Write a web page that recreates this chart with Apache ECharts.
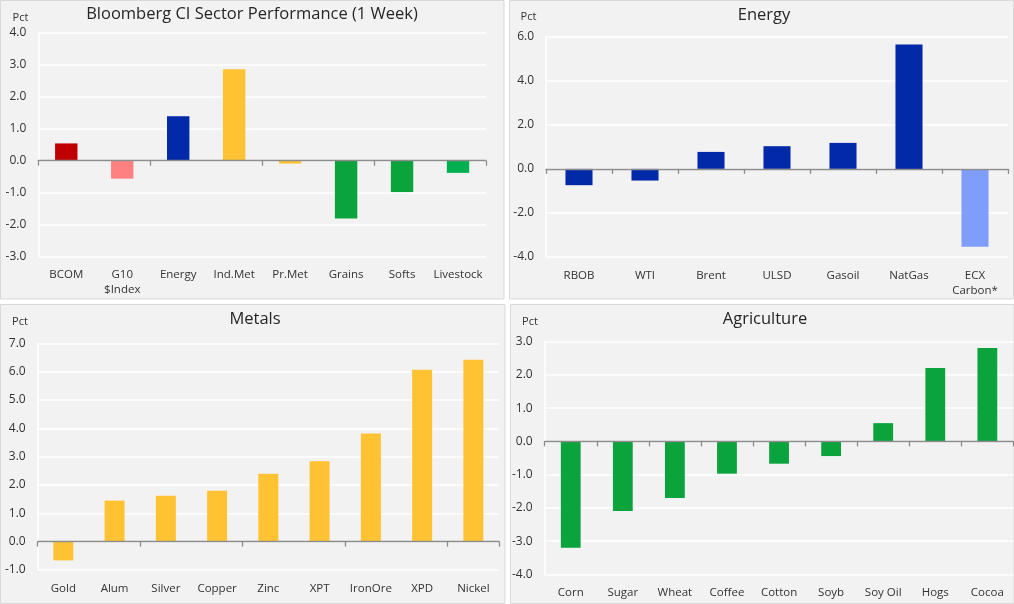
<!DOCTYPE html>
<html>
<head>
<meta charset="utf-8">
<script src="https://cdn.jsdelivr.net/npm/echarts@6/dist/echarts.min.js"></script>
<style>
html,body{margin:0;padding:0;background:#ffffff;}
#chart{width:1014px;height:604px;}
</style>
</head>
<body>
<div id="chart"></div>
<script>
// ---- data ----
const sectorCats = ['BCOM', 'G10\n$Index', 'Energy', 'Ind.Met', 'Pr.Met', 'Grains', 'Softs', 'Livestock'];
const sectorVals = [0.54, -0.56, 1.39, 2.86, -0.09, -1.81, -0.98, -0.38];
const energyCats = ['RBOB', 'WTI', 'Brent', 'ULSD', 'Gasoil', 'NatGas', 'ECX\nCarbon*'];
const energyVals = [-0.74, -0.53, 0.77, 1.03, 1.18, 5.65, -3.53];
const metalsCats = ['Gold', 'Alum', 'Silver', 'Copper', 'Zinc', 'XPT', 'IronOre', 'XPD', 'Nickel'];
const metalsVals = [-0.66, 1.45, 1.62, 1.80, 2.40, 2.84, 3.82, 6.07, 6.42];
const agriCats = ['Corn', 'Sugar', 'Wheat', 'Coffee', 'Cotton', 'Soyb', 'Soy Oil', 'Hogs', 'Cocoa'];
const agriVals = [-3.20, -2.09, -1.70, -0.97, -0.67, -0.44, 0.55, 2.21, 2.81];
// y-axis ranges [min, max, interval]
const sectorAxis = [-3, 4, 1];
const energyAxis = [-4, 6, 2];
const metalsAxis = [-1, 7, 1];
const agriAxis = [-4, 3, 1];
const titles = ['Bloomberg CI Sector Performance (1 Week)', 'Energy', 'Metals', 'Agriculture'];
const unitLabel = 'Pct';

// ---- styles ----
const RED = '#c00000', PINK = '#ff8080', BLUE = '#0229a8', LBLUE = '#7f9dfa',
      YEL = '#ffc233', GRN = '#0aa33c', LGRN = '#00b050';
const sectorColors = [RED, PINK, BLUE, YEL, YEL, GRN, GRN, LGRN];
const energyColors = [BLUE, BLUE, BLUE, BLUE, BLUE, BLUE, LBLUE];
const metalsColors = metalsVals.map(() => YEL);
const agriColors = agriVals.map(() => GRN);

const FONT = '"Open Sans", "DejaVu Sans", sans-serif';
const TXT = '#333333';

const panels = [
  {cats: sectorCats, vals: sectorVals, colors: sectorColors, axis: sectorAxis,
   grid: {left: 38.3, top: 32.7, width: 447.7, height: 224}, bw: '40%',
   rect: [0.5, 0.5, 503.5, 298.5], title: [252, 14], pct: [20.5, 17.5]},
  {cats: energyCats, vals: energyVals, colors: energyColors, axis: energyAxis,
   grid: {left: 546, top: 36.7, width: 462, height: 220.3}, bw: '41%',
   rect: [509.5, 0.5, 504, 298.5], title: [764, 15], pct: [528.5, 17]},
  {cats: metalsCats, vals: metalsVals, colors: metalsColors, axis: metalsAxis,
   grid: {left: 37.7, top: 343.3, width: 461.3, height: 226.7}, bw: '39%',
   rect: [0.5, 304.5, 504.5, 299], title: [255, 319], pct: [20, 322]},
  {cats: agriCats, vals: agriVals, colors: agriColors, axis: agriAxis,
   grid: {left: 544.7, top: 341.7, width: 468.7, height: 232.7}, bw: '38%',
   rect: [510.5, 304.5, 503.5, 299], title: [765, 319], pct: [530, 322]}
];

const grid = [], xAxis = [], yAxis = [], series = [], graphic = [];
panels.forEach((p, i) => {
  graphic.push({type: 'rect', z: -10, silent: true,
    shape: {x: p.rect[0], y: p.rect[1], width: p.rect[2], height: p.rect[3]},
    style: {fill: '#f2f2f2', stroke: '#d9d9d9', lineWidth: 1}});
  graphic.push({type: 'text', x: p.title[0], y: p.title[1], silent: true,
    style: {text: titles[i], fill: '#262626', font: '16.5px ' + FONT,
      textAlign: 'center', textVerticalAlign: 'middle'}});
  graphic.push({type: 'text', x: p.pct[0], y: p.pct[1], silent: true,
    style: {text: unitLabel, fill: TXT, font: '11px ' + FONT,
      textAlign: 'center', textVerticalAlign: 'middle'}});

  grid.push(Object.assign({containLabel: false}, p.grid));
  // axis at zero: line + ticks
  xAxis.push({type: 'category', gridIndex: i, data: p.cats, position: 'bottom',
    axisLine: {show: true, onZero: true, lineStyle: {color: '#8c8c8c', width: 1.3}},
    axisTick: {show: true, length: 5, lineStyle: {color: '#8c8c8c', width: 1.3}},
    axisLabel: {show: false}, splitLine: {show: false}, z: 5});
  // label axis at bottom
  xAxis.push({type: 'category', gridIndex: i, data: p.cats, position: 'bottom',
    axisLine: {show: false, onZero: false}, axisTick: {show: false},
    axisLabel: {show: true, interval: 0, margin: 11, color: TXT, fontSize: 11.5,
      fontFamily: FONT, lineHeight: 15}, splitLine: {show: false}});
  yAxis.push({type: 'value', gridIndex: i, min: p.axis[0], max: p.axis[1], interval: p.axis[2],
    axisLine: {show: true, lineStyle: {color: '#ffffff', width: 1.5}},
    axisTick: {show: false},
    splitLine: {show: true, lineStyle: {color: '#ffffff', width: 1.5}},
    axisLabel: {margin: 12, color: TXT, fontSize: 12, fontFamily: FONT,
      formatter: v => v.toFixed(1)}});
  series.push({type: 'bar', xAxisIndex: 2 * i, yAxisIndex: i, barWidth: p.bw,
    data: p.vals.map((v, k) => ({value: v, itemStyle: {color: p.colors[k]}})),
    animation: false, z: 2});
});

const chart = echarts.init(document.getElementById('chart'), null, {renderer: 'canvas'});
chart.setOption({
  animation: false,
  backgroundColor: '#ffffff',
  textStyle: {fontFamily: FONT},
  graphic: graphic,
  grid: grid, xAxis: xAxis, yAxis: yAxis, series: series
});
</script>
</body>
</html>
